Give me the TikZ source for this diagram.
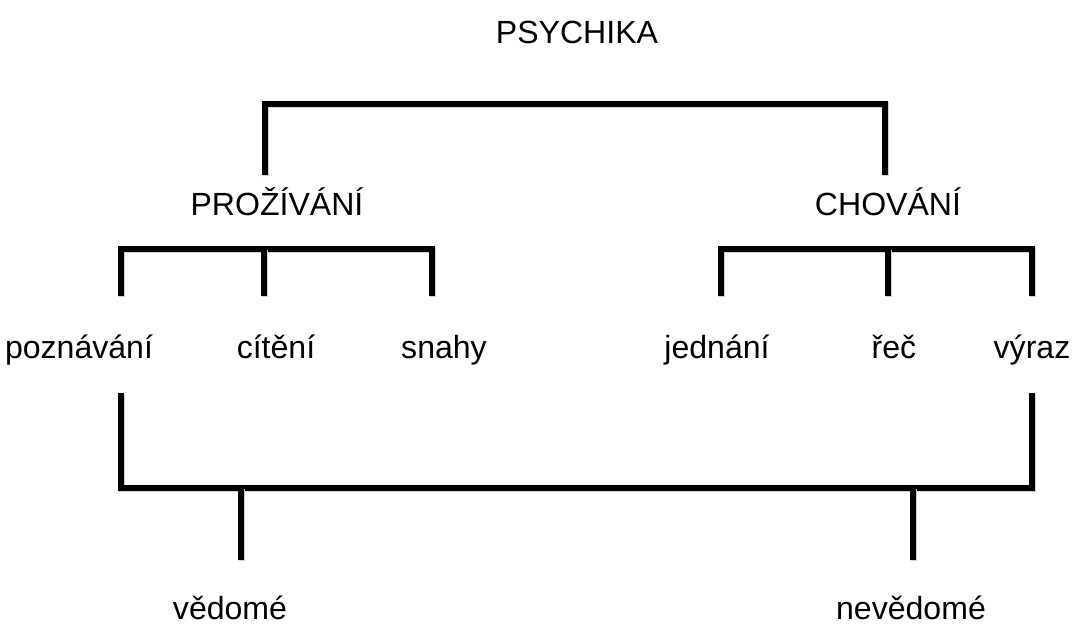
\documentclass[tikz,border=0pt]{standalone}
\usepackage{fontspec}
\setmainfont{Liberation Sans}
\usepackage{tikz}
\usetikzlibrary{positioning,calc}

\begin{document}
\begin{tikzpicture}[
    x=0.025cm, y=-0.025cm,
    word/.style={anchor=base, inner sep=0pt, font=\fontsize{22.8}{27}\selectfont},
    bar/.style={line width=3.6pt, line join=miter,
        preaction={draw=black!18, line width=4pt, transform canvas={shift={(0.9pt,-0.9pt)}}}}
]
    \useasboundingbox (0,0) rectangle (1073,626);

    % Levels
    \node[word] (psy) at (577, 43) {PSYCHIKA};
    \node[word] (pro) at (277, 215) {PROŽÍVÁNÍ};
    \node[word] (cho) at (888, 215) {CHOVÁNÍ};

    \node[word] (poz) at (79, 358) {poznávání};
    \node[word] (cit) at (276, 358) {cítění};
    \node[word] (sna) at (444, 358) {snahy};
    \node[word] (jed) at (717, 358) {jednání};
    \node[word] (rec) at (894, 358) {řeč};
    \node[word] (vyr) at (1032, 358) {výraz};

    \node[word] (ved) at (230, 619) {vědomé};
    \node[word] (nev) at (911, 619) {nevědomé};

    % Bracket points
    \coordinate (top-a) at (265, 175);
    \coordinate (top-l) at (265, 104);
    \coordinate (top-r) at (885, 104);
    \coordinate (top-b) at (885, 175);

    \coordinate (pro-a) at (121, 296);
    \coordinate (pro-l) at (121, 249);
    \coordinate (pro-m) at (264, 249);
    \coordinate (pro-n) at (264, 296);
    \coordinate (pro-r) at (432, 249);
    \coordinate (pro-b) at (432, 296);

    \coordinate (cho-a) at (721, 296);
    \coordinate (cho-l) at (721, 249);
    \coordinate (cho-m) at (888, 249);
    \coordinate (cho-n) at (888, 296);
    \coordinate (cho-r) at (1032, 249);
    \coordinate (cho-b) at (1032, 296);

    \coordinate (low-a) at (121, 393);
    \coordinate (low-l) at (121, 488);
    \coordinate (low-r) at (1032, 488);
    \coordinate (low-b) at (1032, 393);
    \coordinate (ved-t) at (241, 488);
    \coordinate (ved-s) at (241, 560);
    \coordinate (nev-t) at (913, 488);
    \coordinate (nev-s) at (913, 560);

    % Brackets
    \draw[bar] (top-a) -- (top-l) -- (top-r) -- (top-b);

    \draw[bar] (pro-a) -- (pro-l) -- (pro-r) -- (pro-b);
    \draw[bar] (pro-m) -- (pro-n);

    \draw[bar] (cho-a) -- (cho-l) -- (cho-r) -- (cho-b);
    \draw[bar] (cho-m) -- (cho-n);

    \draw[bar] (low-a) -- (low-l) -- (low-r) -- (low-b);
    \draw[bar] (ved-t) -- (ved-s);
    \draw[bar] (nev-t) -- (nev-s);
\end{tikzpicture}
\end{document}
